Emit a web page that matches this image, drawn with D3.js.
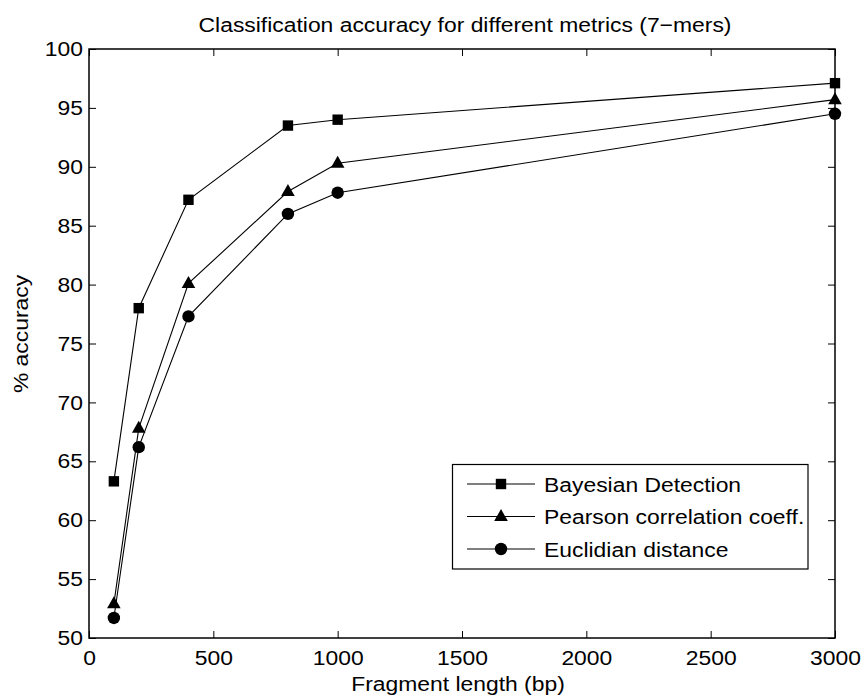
<!DOCTYPE html>
<html><head><meta charset="utf-8">
<script src="https://cdn.jsdelivr.net/npm/d3@7/dist/d3.min.js"></script>
<style>body{margin:0;background:#fff;} svg{display:block;} text{font-family:"Liberation Sans",Arial,Helvetica,sans-serif;fill:#000;}</style>
</head><body><svg id="c" width="864" height="700"></svg>
<script>
const fragmentLengths = [100, 200, 400, 800, 1000, 3000];
const bayesian = [63.3, 78.0, 87.2, 93.5, 94.0, 97.1];
const pearson = [52.9, 67.8, 80.1, 87.9, 90.3, 95.7];
const euclidian = [51.7, 66.2, 77.3, 86.0, 87.8, 94.5];
const seriesNames = ["Bayesian Detection", "Pearson correlation coeff.", "Euclidian distance"];
const seriesMarkers = ["square", "triangle", "circle"];
const xTicks = [0, 500, 1000, 1500, 2000, 2500, 3000];
const yTicks = [50, 55, 60, 65, 70, 75, 80, 85, 90, 95, 100];
const titleText = "Classification accuracy for different metrics (7\u2212mers)";
const xLabel = "Fragment length (bp)";
const yLabel = "% accuracy";

const FS = 20.8, SX = 1.1;
const m = {left: 89, right: 835, top: 49, bottom: 638};
const svg = d3.select("#c");
const x = d3.scaleLinear().domain([0, 3000]).range([m.left, m.right]);
const y = d3.scaleLinear().domain([50, 100]).range([m.bottom, m.top]);

function styleAxis(g, labels) {
  g.select(".domain").remove();
  g.selectAll(".tick line").attr("stroke", "#000").attr("stroke-width", 1);
  if (!labels) g.selectAll(".tick text").remove();
  else g.selectAll(".tick text").attr("font-size", FS).attr("fill", "#000")
        .attr("font-family", '"Liberation Sans",Arial,sans-serif')
        .attr("transform", `scale(${SX},1)`);
}
svg.append("g").attr("transform", `translate(0,${m.bottom})`)
  .call(d3.axisBottom(x).tickValues(xTicks).tickSizeInner(-7).tickSizeOuter(0).tickPadding(12).tickFormat(d3.format("d")))
  .call(g => styleAxis(g, true));
svg.append("g").attr("transform", `translate(0,${m.top})`)
  .call(d3.axisTop(x).tickValues(xTicks).tickSizeInner(-7).tickSizeOuter(0))
  .call(g => styleAxis(g, false));
svg.append("g").attr("transform", `translate(${m.left},0)`)
  .call(d3.axisLeft(y).tickValues(yTicks).tickSizeInner(-7).tickSizeOuter(0).tickPadding(5.5).tickFormat(d3.format("d")))
  .call(g => styleAxis(g, true));
svg.append("g").attr("transform", `translate(${m.right},0)`)
  .call(d3.axisRight(y).tickValues(yTicks).tickSizeInner(-7).tickSizeOuter(0))
  .call(g => styleAxis(g, false));
svg.append("rect").attr("x", m.left).attr("y", m.top).attr("width", m.right - m.left).attr("height", m.bottom - m.top)
  .attr("fill", "none").attr("stroke", "#000").attr("stroke-width", 1.5);

function drawMarker(g, type, cx, cy) {
  if (type === "square") g.append("rect").attr("x", cx - 5.2).attr("y", cy - 5.2).attr("width", 10.4).attr("height", 10.4).attr("fill", "#000");
  else if (type === "triangle") g.append("path").attr("d", `M${cx},${cy - 7.5}L${cx + 6.8},${cy + 4.5}L${cx - 6.8},${cy + 4.5}Z`).attr("fill", "#000");
  else g.append("circle").attr("cx", cx).attr("cy", cy).attr("r", 6.2).attr("fill", "#000");
}
const allSeries = [bayesian, pearson, euclidian];
const line = d3.line().x(d => x(d[0])).y(d => y(d[1]));
allSeries.forEach((vals, i) => {
  const pts = fragmentLengths.map((f, j) => [f, vals[j]]);
  const g = svg.append("g");
  g.append("path").attr("d", line(pts)).attr("fill", "none").attr("stroke", "#000").attr("stroke-width", 1.1);
  pts.forEach(p => drawMarker(g, seriesMarkers[i], x(p[0]), y(p[1])));
});

function stretchedText(tx, ty, str, anchor, rot) {
  const g = svg.append("g").attr("transform", `translate(${tx},${ty})` + (rot ? ` rotate(${rot})` : "") + ` scale(${SX},1)`);
  return g.append("text").attr("font-size", FS).attr("text-anchor", anchor).text(str);
}
// legend
const lg = svg.append("g");
lg.append("rect").attr("x", 452.5).attr("y", 464.5).attr("width", 355.5).attr("height", 104.5).attr("fill", "#fff").attr("stroke", "#000").attr("stroke-width", 1.2);
const legendRows = [484, 516.5, 549];
seriesNames.forEach((name, i) => {
  const yy = legendRows[i];
  lg.append("line").attr("x1", 467).attr("x2", 535).attr("y1", yy).attr("y2", yy).attr("stroke", "#000").attr("stroke-width", 1.1);
  drawMarker(lg, seriesMarkers[i], 501, yy);
  stretchedText(544, yy + 7.5, name, "start");
});
stretchedText((m.left + m.right) / 2 + 3, 32, titleText, "middle");
stretchedText((m.left + m.right) / 2 - 4, 691, xLabel, "middle");
stretchedText(28, 334, yLabel, "middle", -90);
</script></body></html>
